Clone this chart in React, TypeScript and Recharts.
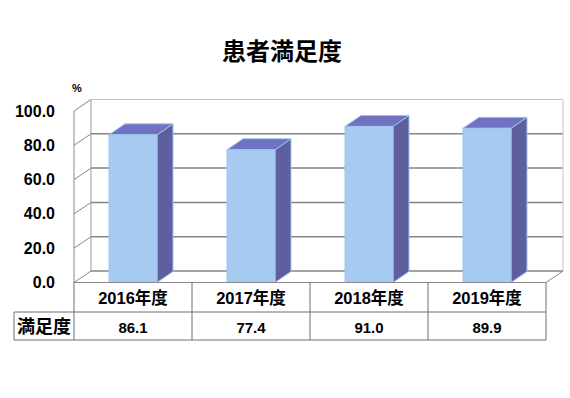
import React from 'react';
import { BarChart, Bar, XAxis, YAxis, CartesianGrid } from 'recharts';

const title = '患者満足度';
const unit = '%';
const rowLabel = '満足度';
const years = ['2016年度', '2017年度', '2018年度', '2019年度'];
const satisfaction = [86.1, 77.4, 91.0, 89.9];
const yTicks = [0, 20, 40, 60, 80, 100];

const data = years.map((year, i) => ({ year, value: satisfaction[i] }));

const FONT = "'Liberation Sans', 'Noto Sans CJK JP', sans-serif";

// 奥行き (3D風)
const WALL_DX = 17;
const WALL_DY = -11.5;
const BAR_DX = 16;
const BAR_DY = -11;

const GRID = '#858585';
const FRAME = '#c4c4c4';
const TABLE = '#6e6e6e';

const Bar3D = (props: any) => {
  const { x, y, width, height } = props;
  if (!height || height <= 0) return null;
  const r = x + width;
  const b = y + height;
  const edge = '#9dc3ef';
  return (
    <g>
      <polygon
        points={`${r},${y} ${r + BAR_DX},${y + BAR_DY} ${r + BAR_DX},${b + BAR_DY} ${r},${b}`}
        fill="#5f5f9f"
        stroke={edge}
        strokeWidth={1}
      />
      <polygon
        points={`${x},${y} ${x + BAR_DX},${y + BAR_DY} ${r + BAR_DX},${y + BAR_DY} ${r},${y}`}
        fill="#7171c1"
        stroke={edge}
        strokeWidth={1}
      />
      <rect x={x} y={y} width={width} height={height} fill="#a6caf0" stroke={edge} strokeWidth={1} />
    </g>
  );
};

// 横の目盛線は奥の壁に描く + 左の側面に斜め線
const WallLine = (p: any) => {
  const { x1, x2, y1 } = p;
  const top = p.y ?? 111;
  const bottom = top + (p.height ?? 171.5);
  const isTop = Math.abs(y1 - top) < 1;
  const isBottom = Math.abs(y1 - bottom) < 1;
  return (
    <g key={p.key ?? `h-${y1}`}>
      <line x1={x1} y1={y1} x2={x1 + WALL_DX} y2={y1 + WALL_DY} stroke={GRID} strokeWidth={1} />
      <line
        x1={x1 + WALL_DX}
        y1={y1 + WALL_DY}
        x2={x2 + WALL_DX}
        y2={y1 + WALL_DY}
        stroke={isTop ? FRAME : GRID}
        strokeWidth={isTop ? 1 : 1.5}
      />
      {isBottom && (
        <line x1={x2} y1={y1} x2={x2 + WALL_DX} y2={y1 + WALL_DY} stroke={GRID} strokeWidth={1} />
      )}
    </g>
  );
};

const WallEdge = (p: any) => {
  const { x1, y1, y2 } = p;
  return (
    <line
      key={p.key ?? `v-${x1}`}
      x1={x1}
      y1={y1 + WALL_DY}
      x2={x1}
      y2={y2 + WALL_DY}
      stroke={p.index === 0 ? '#9a9a9a' : FRAME}
      strokeWidth={1}
    />
  );
};

const YTick = (props: any) => {
  const { x, y, payload } = props;
  return (
    <text
      x={x}
      y={y}
      textAnchor="end"
      dominantBaseline="central"
      fontSize={16}
      fontWeight="bold"
      fill="#000"
      fontFamily={FONT}
    >
      {Number(payload.value).toFixed(1)}
    </text>
  );
};

// データテーブル
const TableTick = (props: any) => {
  const { x, y, payload, index } = props;
  const cellW = payload?.offset ? payload.offset * 2 : 118;
  const left = x - cellW / 2;
  const right = x + cellW / 2;
  const row1 = y + 29.5;
  const row2 = y + 57.5;
  const labelW = 60;
  return (
    <g>
      {index === 0 && (
        <g>
          <line x1={left} y1={y} x2={left} y2={row2} stroke={TABLE} />
          <line x1={left - labelW} y1={row1} x2={left} y2={row1} stroke={TABLE} />
          <line x1={left - labelW} y1={row2} x2={left} y2={row2} stroke={TABLE} />
          <line x1={left - labelW} y1={row1} x2={left - labelW} y2={row2} stroke={TABLE} />
          <text
            x={left - labelW / 2}
            y={(row1 + row2) / 2 + 1}
            textAnchor="middle"
            dominantBaseline="central"
            fontSize={18}
            fontWeight="bold"
            fill="#000"
            fontFamily={FONT}
          >
            {rowLabel}
          </text>
        </g>
      )}
      <line x1={right} y1={y} x2={right} y2={row2} stroke={TABLE} />
      <line x1={left} y1={row1} x2={right} y2={row1} stroke={TABLE} />
      <line x1={left} y1={row2} x2={right} y2={row2} stroke={TABLE} />
      <text
        x={x}
        y={(y + row1) / 2 + 1}
        textAnchor="middle"
        dominantBaseline="central"
        fontSize={16.5}
        fontWeight="bold"
        fill="#000"
        fontFamily={FONT}
      >
        {payload.value}
      </text>
      <text
        x={x}
        y={(row1 + row2) / 2 + 1}
        textAnchor="middle"
        dominantBaseline="central"
        fontSize={15}
        fontWeight="bold"
        fill="#000"
        fontFamily={FONT}
      >
        {satisfaction[index]?.toFixed(1)}
      </text>
    </g>
  );
};

export default function App() {
  return (
    <div style={{ position: 'absolute', left: 0, top: 0, width: 570, height: 398, background: '#fff' }}>
      <div
        style={{
          position: 'absolute',
          left: 0,
          top: 37,
          width: 564,
          textAlign: 'center',
          fontFamily: FONT,
          fontWeight: 'bold',
          fontSize: 24,
          lineHeight: '30px',
          color: '#000',
        }}
      >
        {title}
      </div>
      <div
        style={{
          position: 'absolute',
          left: 72,
          top: 81,
          fontFamily: FONT,
          fontWeight: 'bold',
          fontSize: 11,
          lineHeight: '14px',
          color: '#000',
        }}
      >
        {unit}
      </div>
      <BarChart
        width={570}
        height={398}
        data={data}
        margin={{ top: 111, right: 24, bottom: 55.5, left: 0 }}
        barSize={48}
      >
        <CartesianGrid
          horizontal={WallLine}
          vertical={WallEdge}
          verticalCoordinatesGenerator={({ offset }: any) => [
            offset.left + WALL_DX,
            offset.left + offset.width + WALL_DX,
          ]}
        />
        <YAxis
          type="number"
          domain={[0, 100]}
          ticks={yTicks}
          width={74}
          axisLine={{ stroke: '#8a8a8a' }}
          tickLine={false}
          tickSize={0}
          tickMargin={19}
          tick={YTick}
          interval={0}
        />
        <XAxis
          dataKey="year"
          height={60}
          axisLine={{ stroke: '#8a8a8a' }}
          tickLine={false}
          tickSize={0}
          tickMargin={0}
          tick={TableTick}
          interval={0}
        />
        <Bar dataKey="value" shape={Bar3D} isAnimationActive={false} />
      </BarChart>
    </div>
  );
}
